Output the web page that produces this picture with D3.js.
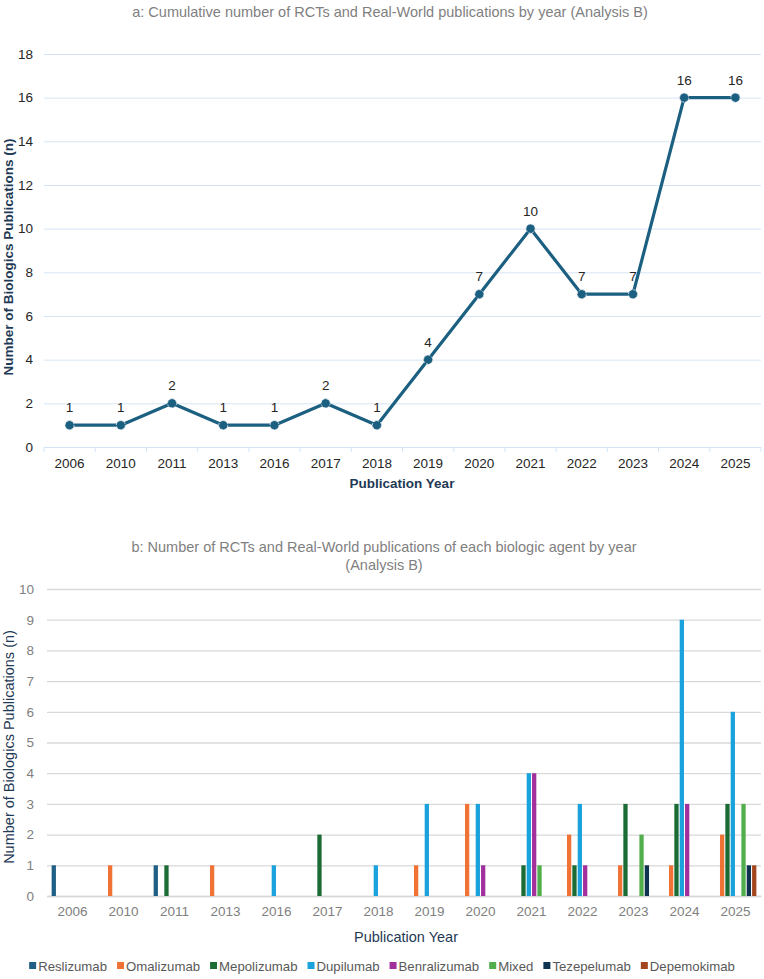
<!DOCTYPE html>
<html>
<head>
<meta charset="utf-8">
<script src="https://cdn.jsdelivr.net/npm/d3@7"></script>
<style>
  body { margin: 0; background: #fff; }
  svg { font-family: "Liberation Sans", Arial, sans-serif; display: block; }
</style>
</head>
<body>
<div id="chart"></div>
<script>
/* Biologics publications by year: line chart (a) + grouped bars (b) */

// data
const years = ["2006", "2010", "2011", "2013", "2016", "2017", "2018", "2019", "2020", "2021", "2022", "2023", "2024", "2025"];
const totals = [1, 1, 2, 1, 1, 2, 1, 4, 7, 10, 7, 7, 16, 16];

const agents = ["Reslizumab", "Omalizumab", "Mepolizumab", "Dupilumab", "Benralizumab", "Mixed", "Tezepelumab", "Depemokimab"];
const reslizumab   = [1, 0, 1, 0, 0, 0, 0, 0, 0, 0, 0, 0, 0, 0];
const omalizumab   = [0, 1, 0, 1, 0, 0, 0, 1, 3, 0, 2, 1, 1, 2];
const mepolizumab  = [0, 0, 1, 0, 0, 2, 0, 0, 0, 1, 1, 3, 3, 3];
const dupilumab    = [0, 0, 0, 0, 1, 0, 1, 3, 3, 4, 3, 0, 9, 6];
const benralizumab = [0, 0, 0, 0, 0, 0, 0, 0, 1, 4, 1, 0, 3, 0];
const mixed        = [0, 0, 0, 0, 0, 0, 0, 0, 0, 1, 0, 2, 0, 3];
const tezepelumab  = [0, 0, 0, 0, 0, 0, 0, 0, 0, 0, 0, 1, 0, 1];
const depemokimab  = [0, 0, 0, 0, 0, 0, 0, 0, 0, 0, 0, 0, 0, 1];
const agentValues = [reslizumab, omalizumab, mepolizumab, dupilumab, benralizumab, mixed, tezepelumab, depemokimab];

const colors = ["#1f5f85", "#f07335", "#1b6b35", "#1aa2dc", "#a1309d", "#52ae4c", "#0e3350", "#a3461f"];

const width = 764, height = 979;

let svg = d3.select("#chart")
    .append("svg")
    .attr("width", width)
    .attr("height", height);

/* ---------- chart a ---------- */
const lineColor = "#1b5f81";

svg.append("text")
    .attr("x", 390).attr("y", 17)
    .attr("text-anchor", "middle")
    .attr("font-size", 14.5)
    .attr("fill", "#7f7f7f")
    .text("a: Cumulative number of RCTs and Real-World publications by year (Analysis B)");

let xa = d3.scaleBand()
    .domain(years)
    .range([44, 761]);

let ya = d3.scaleLinear()
    .domain([0, 18])
    .range([447, 54]);

// gridlines + y labels
let gA = svg.append("g")
    .attr("transform", "translate(44,0)")
    .call(d3.axisLeft(ya).tickValues(d3.range(0, 19, 2)).tickSize(-(761 - 44)).tickPadding(11));
gA.select(".domain").remove();
gA.selectAll(".tick line").attr("stroke", "#d5e5f5").attr("stroke-width", 1);
gA.selectAll(".tick text").attr("font-size", 13.5).attr("fill", "#262626").attr("font-family", "Liberation Sans, Arial, sans-serif");

// x axis (labels at band centres, ticks at band edges)
let xAxisA = svg.append("g")
    .attr("transform", "translate(0,447)")
    .call(d3.axisBottom(xa).tickSize(0).tickPadding(11));
xAxisA.select(".domain").attr("stroke", "#d5e5f5");
xAxisA.selectAll(".tick text").attr("font-size", 13.5).attr("fill", "#262626").attr("font-family", "Liberation Sans, Arial, sans-serif");
xAxisA.selectAll(".edge")
    .data(years.concat(["end"]))
    .join("line")
    .attr("class", "edge")
    .attr("x1", d => d === "end" ? xa.range()[1] : xa(d))
    .attr("x2", d => d === "end" ? xa.range()[1] : xa(d))
    .attr("y1", 0).attr("y2", 5)
    .attr("stroke", "#d5e5f5");

svg.append("text")
    .attr("x", 402).attr("y", 488)
    .attr("text-anchor", "middle")
    .attr("font-size", 13.5).attr("font-weight", "bold")
    .attr("fill", "#1f3a55")
    .text("Publication Year");

svg.append("text")
    .attr("transform", "translate(13,257) rotate(-90)")
    .attr("text-anchor", "middle")
    .attr("font-size", 13.5).attr("font-weight", "bold")
    .attr("fill", "#1f3a55")
    .text("Number of Biologics Publications  (n)");

let pts = years.map((y, i) => ({ year: y, num: totals[i] }));

let line = d3.line()
    .x(d => xa(d.year) + xa.bandwidth() / 2)
    .y(d => ya(d.num));

svg.append("path")
    .datum(pts)
    .attr("fill", "none")
    .attr("stroke", lineColor)
    .attr("stroke-width", 3.2)
    .attr("stroke-linejoin", "round")
    .attr("d", line);

svg.selectAll(".pt")
    .data(pts)
    .join("circle")
    .attr("class", "pt")
    .attr("cx", d => xa(d.year) + xa.bandwidth() / 2)
    .attr("cy", d => ya(d.num))
    .attr("r", 4.5)
    .attr("fill", lineColor)
    .attr("stroke", "#c9d6de")
    .attr("stroke-width", 1)
    .attr("stroke-dasharray", "2,1.5");

svg.selectAll(".lbl")
    .data(pts)
    .join("text")
    .attr("class", "lbl")
    .attr("x", d => xa(d.year) + xa.bandwidth() / 2)
    .attr("y", d => ya(d.num) - 13)
    .attr("text-anchor", "middle")
    .attr("font-size", 13.5)
    .attr("fill", "#262626")
    .text(d => d.num);

/* ---------- chart b ---------- */
svg.append("text")
    .attr("x", 384).attr("y", 552)
    .attr("text-anchor", "middle")
    .attr("font-size", 14.5)
    .attr("fill", "#7f7f7f")
    .text("b: Number of RCTs and Real-World publications of each biologic agent by year");
svg.append("text")
    .attr("x", 384).attr("y", 570)
    .attr("text-anchor", "middle")
    .attr("font-size", 14.5)
    .attr("fill", "#7f7f7f")
    .text("(Analysis B)");

let xb = d3.scaleBand()
    .domain(years)
    .range([47, 761])
    .paddingInner(0.14)
    .paddingOuter(0.07);

let xs = d3.scaleBand()
    .domain(agents)
    .range([0, xb.bandwidth()])
    .padding(0.2);

let yb = d3.scaleLinear()
    .domain([0, 10])
    .range([896, 589]);

let gB = svg.append("g")
    .attr("transform", "translate(47,0)")
    .call(d3.axisLeft(yb).ticks(10).tickSize(-(761 - 47)).tickPadding(13));
gB.select(".domain").remove();
gB.selectAll(".tick line").attr("stroke", "#d9d9d9").attr("stroke-width", 1.3);
gB.selectAll(".tick text").attr("font-size", 13.5).attr("fill", "#808080").attr("font-family", "Liberation Sans, Arial, sans-serif");

let xAxisB = svg.append("g")
    .attr("transform", "translate(0,896)")
    .call(d3.axisBottom(xb.copy().paddingInner(0).paddingOuter(0)).tickSize(0).tickPadding(10));
xAxisB.select(".domain").attr("stroke", "#d9d9d9").attr("stroke-width", 1.3);
xAxisB.selectAll(".tick text").attr("font-size", 13.5).attr("fill", "#808080").attr("font-family", "Liberation Sans, Arial, sans-serif");

let barData = [];
years.forEach((y, i) => {
    agents.forEach((a, j) => {
        if (agentValues[j][i] > 0) barData.push({ year: y, agent: a, num: agentValues[j][i], color: colors[j] });
    });
});

svg.selectAll(".bar")
    .data(barData)
    .join("rect")
    .attr("class", "bar")
    .attr("x", d => xb(d.year) + xs(d.agent))
    .attr("width", xs.bandwidth())
    .attr("y", d => yb(d.num))
    .attr("height", d => yb(0) - yb(d.num))
    .attr("fill", d => d.color);

svg.append("text")
    .attr("x", 406).attr("y", 942)
    .attr("text-anchor", "middle")
    .attr("font-size", 14.5)
    .attr("fill", "#1f3a55")
    .text("Publication Year");

svg.append("text")
    .attr("transform", "translate(14,747) rotate(-90)")
    .attr("text-anchor", "middle")
    .attr("font-size", 14.5)
    .attr("fill", "#1f3a55")
    .text("Number of Biologics Publications  (n)");

// legend
let legend = svg.append("g").attr("transform", "translate(0,966)");
let lx = 0;
let items = legend.selectAll(".item")
    .data(agents)
    .join("g")
    .attr("class", "item");
items.append("rect")
    .attr("y", -4).attr("width", 7).attr("height", 7)
    .attr("fill", (d, i) => colors[i]);
items.append("text")
    .attr("x", 9).attr("y", 0)
    .attr("dy", "0.35em")
    .attr("font-size", 13.2)
    .attr("fill", "#595959")
    .text(d => d);
items.each(function () {
    let g = d3.select(this);
    g.attr("transform", `translate(${lx},0)`);
    lx += 9 + g.select("text").node().getComputedTextLength() + 10;
});
legend.attr("transform", `translate(${(width - (lx - 10)) / 2},966)`);
</script>
</body>
</html>
